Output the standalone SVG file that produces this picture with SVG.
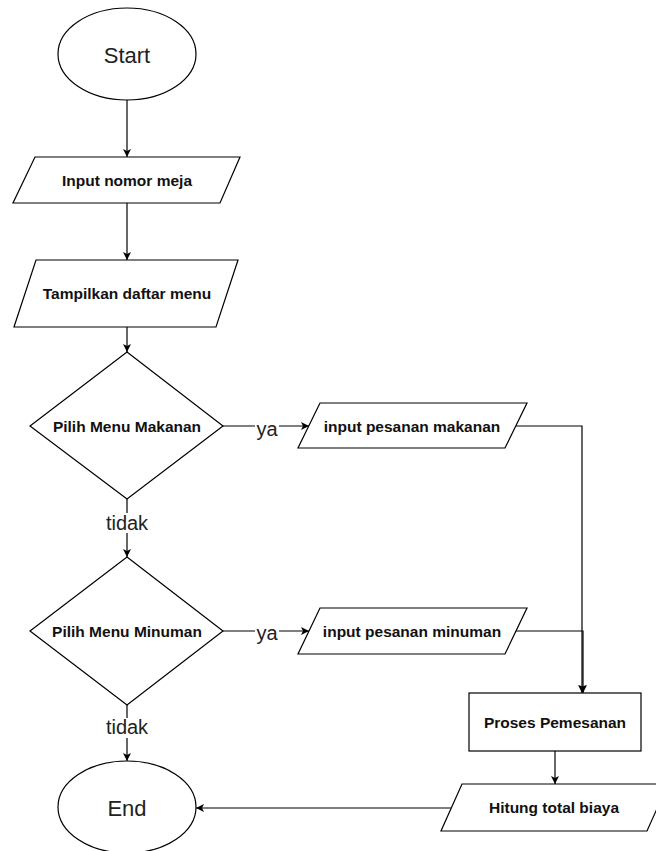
<svg xmlns="http://www.w3.org/2000/svg" width="656" height="851" viewBox="0 0 656 851">
  <style>
    .shape { fill: #ffffff; stroke: #000000; stroke-width: 1.2; }
    .conn { fill: none; stroke: #000000; stroke-width: 1.2; }
    .big { font-family: "Liberation Sans", Arial, sans-serif; font-size: 22px; fill: #222; text-anchor: middle; }
    .bold { font-family: "Liberation Sans", Arial, sans-serif; font-size: 15.5px; font-weight: bold; fill: #111; text-anchor: middle; }
    .lbl { font-family: "Liberation Sans", Arial, sans-serif; font-size: 20px; fill: #222; text-anchor: middle; }
    .lblbg { fill: #ffffff; stroke: none; }
  </style>
  <defs>
    <marker id="arrow" viewBox="0 0 10 10" refX="10" refY="5" markerWidth="8" markerHeight="8" markerUnits="userSpaceOnUse" orient="auto">
      <path d="M0,0 L10,5 L0,10 L2.5,5 Z" fill="#000000"/>
    </marker>
  </defs>

  <rect x="0" y="0" width="656" height="851" fill="#ffffff"/>

  <!-- connectors -->
  <g id="connectors">
    <line class="conn" x1="127" y1="100" x2="127" y2="157" marker-end="url(#arrow)"/>
    <line class="conn" x1="127" y1="203" x2="127" y2="260" marker-end="url(#arrow)"/>
    <line class="conn" x1="127" y1="327" x2="127" y2="352" marker-end="url(#arrow)"/>
    <line class="conn" x1="127" y1="499" x2="127" y2="557" marker-end="url(#arrow)"/>
    <line class="conn" x1="127" y1="705" x2="127" y2="761" marker-end="url(#arrow)"/>
    <line class="conn" x1="223" y1="426" x2="309" y2="426" marker-end="url(#arrow)"/>
    <line class="conn" x1="223" y1="631" x2="309" y2="631" marker-end="url(#arrow)"/>
    <polyline class="conn" points="516,426 582,426 582,693" marker-end="url(#arrow)"/>
    <polyline class="conn" points="516,631 583,631 583,693" marker-end="url(#arrow)"/>
    <line class="conn" x1="555" y1="751" x2="555" y2="784" marker-end="url(#arrow)"/>
    <line class="conn" x1="451" y1="808" x2="196" y2="808" marker-end="url(#arrow)"/>

    <!-- edge labels -->
    <rect class="lblbg" x="106" y="513" width="42" height="20"/>
    <text class="lbl" x="127" y="530">tidak</text>
    <rect class="lblbg" x="106" y="718" width="42" height="20"/>
    <text class="lbl" x="127" y="734">tidak</text>
    <rect class="lblbg" x="255" y="418" width="24" height="22"/>
    <text class="lbl" x="267" y="436">ya</text>
    <rect class="lblbg" x="255" y="623" width="24" height="22"/>
    <text class="lbl" x="267" y="640">ya</text>
  </g>

  <g id="start">
    <ellipse class="shape" cx="127" cy="54" rx="69" ry="46"/>
    <text class="big" x="127" y="63">Start</text>
  </g>

  <g id="input-nomor-meja">
    <polygon class="shape" points="35,157 240,157 220,203 13,203"/>
    <text class="bold" x="127" y="186">Input nomor meja</text>
  </g>

  <g id="tampilkan-menu">
    <polygon class="shape" points="36,260 238,260 216,327 14,327"/>
    <text class="bold" x="127" y="299">Tampilkan daftar menu</text>
  </g>

  <g id="pilih-makanan">
    <polygon class="shape" points="127,352 223,426 127,499 30,426"/>
    <text class="bold" x="127" y="432">Pilih Menu Makanan</text>
  </g>

  <g id="pilih-minuman">
    <polygon class="shape" points="127,557 223,631 127,705 30,631"/>
    <text class="bold" x="127" y="637">Pilih Menu Minuman</text>
  </g>

  <g id="end">
    <ellipse class="shape" cx="127" cy="807" rx="69" ry="46"/>
    <text class="big" x="127" y="816">End</text>
  </g>

  <g id="input-makanan">
    <polygon class="shape" points="320,403 527,403 505,448 298,448"/>
    <text class="bold" x="412" y="432">input pesanan makanan</text>
  </g>

  <g id="input-minuman">
    <polygon class="shape" points="320,608 527,608 505,654 298,654"/>
    <text class="bold" x="412" y="637">input pesanan minuman</text>
  </g>

  <g id="proses-pemesanan">
    <rect class="shape" x="469" y="693" width="172" height="58"/>
    <text class="bold" x="555" y="728">Proses Pemesanan</text>
  </g>

  <g id="hitung-biaya">
    <polygon class="shape" points="462,784 668,784 647,831 441,831"/>
    <text class="bold" x="554" y="813">Hitung total biaya</text>
  </g>
</svg>
